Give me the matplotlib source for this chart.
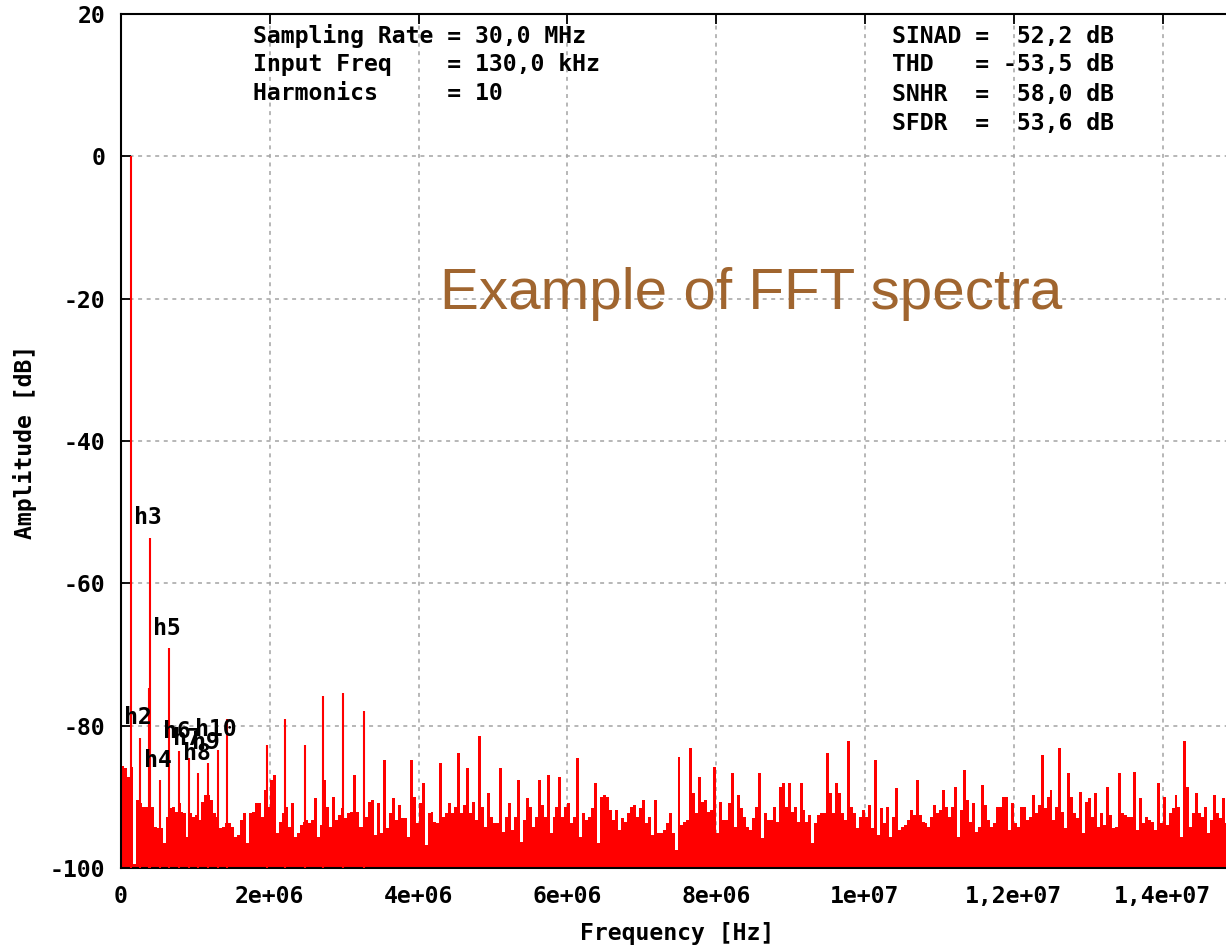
import numpy as np
import matplotlib
matplotlib.use("Agg")
import matplotlib.pyplot as plt

# ---- measurement setup -------------------------------------------------
fs_hz = 30.0e6
f_in_hz = 130.0e3
cell_hz = 40.0e3          # width of one noise-floor cell

# noise floor, one level per 40 kHz cell starting at 0 Hz (dB)
noise_floor_db = [
    -85.7, -86.0, -87.2, -85.8, -99.5, -90.4, -90.9, -91.4, -91.4, -91.6,
    -91.4, -94.2, -94.4, -94.4, -96.5, -92.8, -91.6, -91.4, -92.1, -90.9,
    -92.1, -92.3, -95.6, -92.3, -92.8, -92.6, -93.3, -90.7, -89.7, -89.7,
    -90.4, -92.3, -92.8, -94.4, -94.2, -93.7, -93.7, -94.2, -95.6, -95.4,
    -93.3, -92.3, -96.5, -92.3, -92.1, -90.9, -90.9, -92.8, -89.0, -91.4,
    -87.6, -86.9, -95.1, -93.5, -92.3, -91.4, -94.2, -90.9, -95.6, -95.1,
    -94.0, -93.5, -93.3, -93.7, -93.3, -90.2, -95.6, -94.0, -87.6, -91.4,
    -94.2, -90.0, -93.3, -92.6, -91.6, -93.0, -92.3, -92.1, -86.9, -92.1,
    -94.2, -94.2, -92.8, -90.7, -90.4, -95.4, -90.9, -95.1, -84.8, -94.4,
    -92.3, -90.2, -93.3, -91.1, -93.0, -93.0, -95.6, -84.8, -90.0, -93.7,
    -90.9, -88.0, -96.8, -92.3, -92.1, -93.5, -93.7, -85.3, -92.8, -92.3,
    -90.9, -92.3, -91.4, -83.9, -92.3, -91.1, -86.0, -92.3, -90.7, -93.3,
    -81.5, -91.4, -94.2, -89.5, -92.8, -93.7, -93.7, -86.0, -94.9, -92.8,
    -90.9, -94.7, -92.8, -87.6, -96.3, -93.3, -90.2, -91.4, -94.2, -92.8,
    -87.6, -91.1, -92.8, -87.0, -95.1, -92.8, -91.4, -87.2, -92.8, -91.4,
    -90.9, -93.7, -92.8, -84.6, -95.6, -92.3, -93.3, -92.8, -91.6, -88.1,
    -96.5, -90.0, -89.7, -90.0, -91.8, -93.3, -91.8, -94.7, -93.0, -93.5,
    -92.3, -91.4, -91.1, -92.8, -91.6, -90.4, -93.7, -92.8, -95.4, -90.4,
    -95.1, -95.1, -94.7, -93.7, -92.3, -95.1, -97.5, -84.4, -94.0, -93.5,
    -93.3, -83.2, -89.5, -92.3, -87.2, -90.7, -90.4, -92.1, -91.8, -85.8,
    -95.1, -90.7, -93.3, -93.3, -90.9, -86.7, -94.2, -89.7, -91.6, -92.8,
    -94.2, -94.7, -93.0, -91.4, -86.7, -95.8, -92.3, -93.3, -93.3, -91.4,
    -93.5, -88.6, -88.1, -91.4, -88.1, -92.1, -91.4, -93.5, -88.1, -91.8,
    -93.5, -92.6, -96.5, -93.7, -92.6, -92.3, -92.3, -83.9, -89.5, -92.3,
    -88.1, -89.5, -92.3, -93.3, -82.2, -91.4, -92.3, -94.4, -92.8, -91.8,
    -92.8, -91.1, -94.4, -84.8, -95.4, -91.6, -93.7, -91.4, -95.6, -92.8,
    -88.8, -94.7, -94.2, -94.0, -93.3, -91.8, -92.6, -87.6, -92.6, -93.5,
    -93.7, -94.2, -92.8, -91.1, -92.3, -91.8, -89.0, -91.4, -92.8, -91.4,
    -88.6, -95.6, -91.8, -86.2, -90.4, -93.5, -90.9, -94.9, -94.2, -88.3,
    -91.1, -93.3, -94.2, -93.7, -91.4, -91.4, -90.0, -90.0, -94.7, -90.9,
    -93.7, -94.2, -91.4, -91.4, -93.3, -92.8, -89.7, -92.3, -91.1, -84.1,
    -91.6, -90.0, -89.0, -93.3, -91.4, -83.2, -92.1, -94.4, -86.7, -90.0,
    -92.3, -93.0, -89.3, -95.1, -90.7, -90.2, -92.8, -89.5, -94.2, -92.3,
    -94.0, -88.6, -92.6, -94.4, -94.2, -86.7, -92.3, -92.6, -92.8, -92.8,
    -86.5, -94.7, -90.2, -93.7, -92.8, -93.3, -93.5, -94.7, -88.1, -93.7,
    -90.0, -94.0, -92.3, -91.6, -89.7, -91.4, -95.6, -82.2, -88.6, -94.2,
    -92.3, -89.5, -92.3, -92.8, -91.4, -95.1, -93.3, -89.7, -92.3, -93.0,
    -90.2, -93.7,
]

# fundamental and other narrow spurs (Hz, dB)
spur_freq_hz = [130e3, 370e3, 1.43e6, 1.96e6, 2.20e6, 2.47e6, 2.72e6, 2.99e6, 3.26e6]
spur_db = [0.0, -74.7, -79.0, -82.7, -79.1, -82.7, -75.9, -75.4, -77.9]

# harmonics of the input tone
harmonic_names = ["h2", "h3", "h4", "h5", "h6", "h7", "h8", "h9", "h10"]
harmonic_freq_hz = [260e3, 390e3, 520e3, 650e3, 780e3, 910e3, 1.04e6, 1.17e6, 1.30e6]
harmonic_db = [-81.7, -53.6, -87.7, -69.1, -83.6, -84.6, -86.7, -85.2, -83.4]

setup_lines = ["Sampling Rate = 30,0 MHz",
               "Input Freq    = 130,0 kHz",
               "Harmonics     = 10"]
result_lines = ["SINAD =  52,2 dB",
                "THD   = -53,5 dB",
                "SNHR  =  58,0 dB",
                "SFDR  =  53,6 dB"]

x_ticks = [0, 2e6, 4e6, 6e6, 8e6, 10e6, 12e6, 14e6]
x_tick_labels = ["0", "2e+06", "4e+06", "6e+06", "8e+06", "1e+07", "1,2e+07", "1,4e+07"]
y_ticks = [20, 0, -20, -40, -60, -80, -100]

# ---- figure ---------------------------------------------------------------
W, H = 1226, 947
fig = plt.figure(figsize=(W / 100, H / 100), dpi=100)
fig.patch.set_facecolor("white")

mono = dict(family="DejaVu Sans Mono", fontweight="bold", fontsize=16.7, color="black")

# plot frame: left edge at x=121 px, 15 MHz lies just beyond the right edge
left, right, top, bottom = 121, 1237, 14, 868
ax = fig.add_axes([left / W, (H - bottom) / H, (right - left) / W, (bottom - top) / H])
ax.set_xlim(0, fs_hz / 2)
ax.set_ylim(-100, 20)

floor = np.asarray(noise_floor_db)
cell_start = np.arange(len(floor)) * cell_hz
ax.bar(cell_start, floor + 100, bottom=-100, width=cell_hz, align="edge",
       color="#ff0000", linewidth=0, zorder=2)
ax.vlines(spur_freq_hz, -100, spur_db, color="#ff0000", linewidth=1.5, zorder=3)
ax.vlines(harmonic_freq_hz, -100, harmonic_db, color="#ff0000", linewidth=1.5, zorder=3)

for name, f, lvl in zip(harmonic_names, harmonic_freq_hz, harmonic_db):
    ax.annotate(name, xy=(f, lvl), xytext=(-2, 20), textcoords="offset pixels",
                ha="center", va="center", zorder=5, **mono)

ax.set_axisbelow(True)
ax.grid(True, color="#a3a3a3", linestyle=(0, (2.6, 3.0)), linewidth=1.1)
ax.set_xticks(x_ticks)
ax.set_xticklabels(x_tick_labels)
ax.set_yticks(y_ticks)
ax.set_yticklabels([str(v) for v in y_ticks])
ax.tick_params(direction="in", length=7.5, width=1.3, top=True, right=True,
               labelsize=16.7, colors="black")
ax.tick_params(axis="x", pad=12.5)
ax.tick_params(axis="y", pad=11.5)
for lab in ax.get_xticklabels() + ax.get_yticklabels():
    lab.set_family("DejaVu Sans Mono")
    lab.set_fontweight("bold")
for sp in ax.spines.values():
    sp.set_linewidth(1.5)
    sp.set_color("black")

# annotation blocks
for i, line in enumerate(setup_lines):
    fig.text(253 / W, 1 - (36 + 29 * i) / H, line, ha="left", va="center", **mono)
for i, line in enumerate(result_lines):
    fig.text(892 / W, 1 - (36 + 29 * i) / H, line, ha="left", va="center", **mono)

fig.text(25 / W, 1 - 442 / H, "Amplitude [dB]", rotation=90, ha="center", va="center", **mono)
fig.text(677 / W, 1 - 933 / H, "Frequency [Hz]", ha="center", va="center", **mono)

fig.text(440 / W, 1 - 294 / H, "Example of FFT spectra", ha="left", va="center",
         family="Liberation Sans", fontsize=42, color="#A0652F")

fig.savefig("out.png", dpi=100)
